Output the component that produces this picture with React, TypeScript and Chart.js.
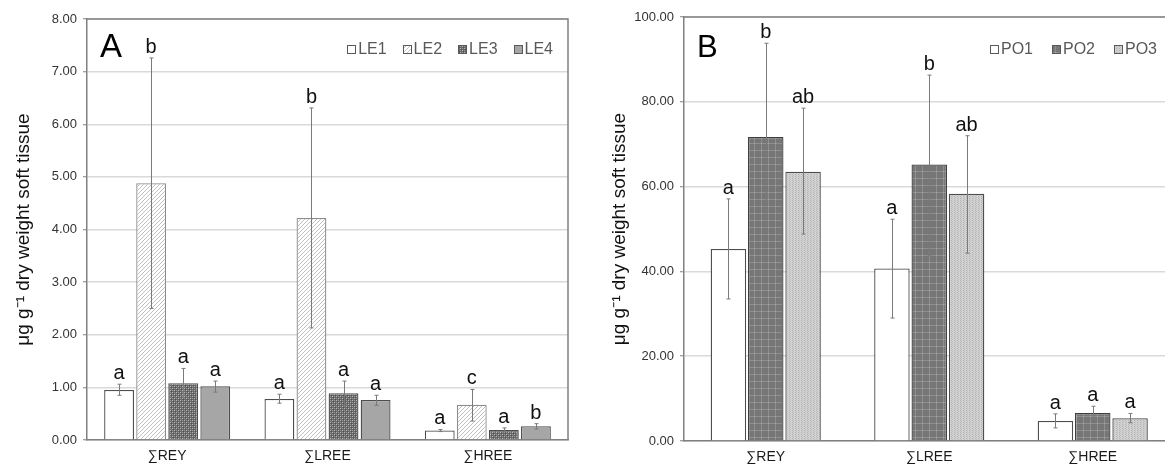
import React, { useEffect, useRef } from "react";
import { Chart, registerables } from "chart.js";

Chart.register(...registerables);

const FONT = '"Liberation Sans", Arial, Helvetica, sans-serif';

// ---------- data ----------
const categories = ["∑REY", "∑LREE", "∑HREE"];

const leLabels = ["LE1", "LE2", "LE3", "LE4"];
const le1 = [0.95, 0.78, 0.18];
const le2 = [4.88, 4.22, 0.67];
const le3 = [1.08, 0.89, 0.19];
const le4 = [1.02, 0.76, 0.26];
const le1Lo = [0.85, 0.7, 0.16];
const le1Hi = [1.06, 0.87, 0.2];
const le2Lo = [2.5, 2.13, 0.36];
const le2Hi = [7.26, 6.31, 0.96];
const le3Lo = [0.8, 0.65, 0.15];
const le3Hi = [1.36, 1.12, 0.23];
const le4Lo = [0.91, 0.66, 0.21];
const le4Hi = [1.12, 0.85, 0.31];
const le1Sig = ["a", "a", "a"];
const le2Sig = ["b", "b", "c"];
const le3Sig = ["a", "a", "a"];
const le4Sig = ["a", "a", "b"];

const poLabels = ["PO1", "PO2", "PO3"];
const po1 = [45.3, 40.7, 4.7];
const po2 = [71.7, 65.2, 6.6];
const po3 = [63.5, 58.3, 5.35];
const po1Lo = [33.5, 29.0, 3.1];
const po1Hi = [57.1, 52.3, 6.4];
const po2Lo = [49.5, 43.7, 5.0];
const po2Hi = [93.8, 86.3, 8.2];
const po3Lo = [48.8, 44.3, 4.3];
const po3Hi = [78.5, 72.0, 6.5];
const po1Sig = ["a", "a", "a"];
const po2Sig = ["b", "b", "a"];
const po3Sig = ["ab", "ab", "a"];

const yTitle = "μg g⁻¹ dry weight soft tissue";

// ---------- patterns ----------
function pattern(kind: string): CanvasPattern | string {
  const c = document.createElement("canvas");
  const ctx = c.getContext("2d")!;
  if (kind === "hatch") {
    c.width = 4;
    c.height = 4;
    ctx.fillStyle = "#ffffff";
    ctx.fillRect(0, 0, 4, 4);
    ctx.strokeStyle = "#c0c0c0";
    ctx.lineWidth = 1;
    ctx.beginPath();
    ctx.moveTo(0, 4);
    ctx.lineTo(4, 0);
    ctx.moveTo(-1, 1);
    ctx.lineTo(1, -1);
    ctx.moveTo(3, 5);
    ctx.lineTo(5, 3);
    ctx.stroke();
  } else if (kind === "check") {
    c.width = 4;
    c.height = 4;
    ctx.fillStyle = "#6a6a6a";
    ctx.fillRect(0, 0, 4, 4);
    ctx.fillStyle = "#b8b8b8";
    ctx.fillRect(0, 0, 1, 1);
    ctx.fillRect(2, 2, 1, 1);
    ctx.fillStyle = "#959595";
    ctx.fillRect(2, 0, 1, 1);
    ctx.fillRect(0, 2, 1, 1);
    ctx.fillStyle = "#4f4f4f";
    ctx.fillRect(1, 1, 1, 1);
    ctx.fillRect(3, 3, 1, 1);
  } else if (kind === "plaid") {
    c.width = 7;
    c.height = 7;
    ctx.fillStyle = "#767676";
    ctx.fillRect(0, 0, 7, 7);
    ctx.fillStyle = "#8f8f8f";
    ctx.fillRect(3, 0, 1, 7);
    ctx.fillRect(0, 3, 7, 1);
    ctx.fillStyle = "#a6a6a6";
    ctx.fillRect(3, 3, 1, 1);
  } else if (kind === "dots") {
    c.width = 3;
    c.height = 2;
    ctx.fillStyle = "#d2d2d2";
    ctx.fillRect(0, 0, 3, 2);
    ctx.fillStyle = "#b2b2b2";
    ctx.fillRect(1, 0, 1, 1);
    ctx.fillStyle = "#c0c0c0";
    ctx.fillRect(2, 1, 1, 1);
  }
  return ctx.createPattern(c, "repeat")!;
}

// ---------- plugins ----------
function errorPlugin(lo: number[][], hi: number[][], sig: string[][], sigFont: number) {
  return {
    id: "errbars",
    afterDatasetsDraw(chart: any) {
      const ctx = chart.ctx;
      const y = chart.scales.y;
      ctx.save();
      chart.data.datasets.forEach((_d: any, i: number) => {
        const meta = chart.getDatasetMeta(i);
        meta.data.forEach((bar: any, j: number) => {
          const x = Math.round(bar.x) + 0.5;
          const yl = y.getPixelForValue(lo[i][j]);
          const yh = y.getPixelForValue(hi[i][j]);
          ctx.strokeStyle = "#7a7a7a";
          ctx.lineWidth = 1;
          ctx.beginPath();
          ctx.moveTo(x, yl);
          ctx.lineTo(x, yh);
          ctx.moveTo(x - 2, yl);
          ctx.lineTo(x + 2, yl);
          ctx.moveTo(x - 2, yh);
          ctx.lineTo(x + 2, yh);
          ctx.stroke();
          ctx.fillStyle = "#111111";
          ctx.font = `${sigFont}px ${FONT}`;
          ctx.textAlign = "center";
          ctx.textBaseline = "alphabetic";
          ctx.fillText(sig[i][j], bar.x, yh - 5);
        });
      });
      ctx.restore();
    },
  };
}

function framePlugin(panel: string, panelFont: number, drawRight: boolean) {
  return {
    id: "frame",
    afterDraw(chart: any) {
      const { left, right, top } = chart.chartArea;
      const ctx = chart.ctx;
      ctx.save();
      ctx.strokeStyle = "#808080";
      ctx.lineWidth = 1.5;
      ctx.beginPath();
      ctx.moveTo(left, top);
      ctx.lineTo(right, top);
      if (drawRight) {
        ctx.lineTo(right, chart.chartArea.bottom);
      }
      ctx.stroke();
      ctx.fillStyle = "#000000";
      ctx.font = `${panelFont}px ${FONT}`;
      ctx.textAlign = "left";
      ctx.textBaseline = "alphabetic";
      ctx.fillText(panel, left + 13, 57);
      ctx.restore();
    },
  };
}

function legendPlugin(rightX: number, centerY: number, spacing: number) {
  return {
    id: "customLegend",
    afterDraw(chart: any) {
      const ctx = chart.ctx;
      ctx.save();
      ctx.font = `16px ${FONT}`;
      const box = 8;
      const gap = 3;
      const ds = chart.data.datasets;
      const widths = ds.map((d: any) => box + gap + ctx.measureText(d.label).width);
      const total = widths.reduce((a: number, b: number) => a + b, 0) + spacing * (ds.length - 1);
      let x = rightX - total;
      ds.forEach((d: any, i: number) => {
        const bx = Math.round(x) + 0.5;
        const by = Math.round(centerY - box / 2) + 0.5;
        ctx.fillStyle = d.backgroundColor;
        ctx.fillRect(bx, by, box, box);
        ctx.strokeStyle = "#595959";
        ctx.lineWidth = 1;
        ctx.strokeRect(bx, by, box, box);
        ctx.fillStyle = "#595959";
        ctx.textAlign = "left";
        ctx.textBaseline = "middle";
        ctx.fillText(d.label, x + box + gap, centerY + 1);
        x += widths[i] + spacing;
      });
      ctx.restore();
    },
  };
}

function makeOptions(
  max: number,
  step: number,
  yWidth: number,
  xHeight: number,
  padTop: number,
  padRight: number,
  titlePad: number
) {
  return {
    responsive: false,
    animation: false as const,
    devicePixelRatio: 1,
    layout: { padding: { left: 0, right: padRight, top: padTop, bottom: 0 } },
    plugins: { legend: { display: false }, tooltip: { enabled: false } },
    scales: {
      x: {
        type: "category" as const,
        grid: { display: false, drawTicks: false },
        border: { color: "#808080", width: 1.5 },
        ticks: { padding: 8, color: "#1a1a1a", font: { size: 14, family: FONT } },
        afterFit: (s: any) => {
          s.height = xHeight;
        },
      },
      y: {
        min: 0,
        max: max,
        ticks: {
          stepSize: step,
          padding: 6,
          color: "#333333",
          font: { size: 13, family: FONT },
          callback: (v: any) => Number(v).toFixed(2),
        },
        grid: { color: "#d9d9d9", lineWidth: 1.5, tickLength: 4, tickColor: "#808080", tickWidth: 1 },
        border: { color: "#808080", width: 1.5 },
        title: {
          display: true,
          text: yTitle,
          color: "#111111",
          font: { size: 19, family: FONT },
          padding: { top: titlePad, bottom: 0 },
        },
        afterFit: (s: any) => {
          s.width = yWidth;
        },
      },
    },
  };
}

export default function App() {
  const refA = useRef<HTMLCanvasElement | null>(null);
  const refB = useRef<HTMLCanvasElement | null>(null);

  useEffect(() => {
    const pWhite = "#ffffff";
    const pHatch = pattern("hatch");
    const pCheck = pattern("check");
    const pGray = "#a6a6a6";
    const pPlaid = pattern("plaid");
    const pDots = pattern("dots");

    const leVals = [le1, le2, le3, le4];
    const leFills = [pWhite, pHatch, pCheck, pGray];
    const leBorders = ["#4d4d4d", "#8c8c8c", "#4d4d4d", "#4d4d4d"];

    const chartA = new Chart(refA.current!, {
      type: "bar",
      data: {
        labels: categories,
        datasets: leVals.map((v, i) => ({
          label: leLabels[i],
          data: v,
          backgroundColor: leFills[i] as any,
          borderColor: leBorders[i],
          borderWidth: 1.3,
          categoryPercentage: 0.8,
          barPercentage: 0.93,
        })),
      },
      options: makeOptions(8, 1, 87, 24, 19, 12, 12.5) as any,
      plugins: [
        framePlugin("A", 33, true),
        errorPlugin(
          [le1Lo, le2Lo, le3Lo, le4Lo],
          [le1Hi, le2Hi, le3Hi, le4Hi],
          [le1Sig, le2Sig, le3Sig, le4Sig],
          20
        ),
        legendPlugin(553, 48.5, 16),
      ],
    });

    const poVals = [po1, po2, po3];
    const poFills = [pWhite, pPlaid, pDots];
    const poBorders = ["#4d4d4d", "#3d3d3d", "#4d4d4d"];

    const chartB = new Chart(refB.current!, {
      type: "bar",
      data: {
        labels: categories,
        datasets: poVals.map((v, i) => ({
          label: poLabels[i],
          data: v,
          backgroundColor: poFills[i] as any,
          borderColor: poBorders[i],
          borderWidth: 1.3,
          categoryPercentage: 0.685,
          barPercentage: 0.95,
        })),
      },
      options: makeOptions(100, 20, 94, 23, 17, 15.5, 18.5) as any,
      plugins: [
        framePlugin("B", 31, false),
        errorPlugin([po1Lo, po2Lo, po3Lo], [po1Hi, po2Hi, po3Hi], [po1Sig, po2Sig, po3Sig], 20),
        legendPlugin(567, 48.5, 19),
      ],
    });

    return () => {
      chartA.destroy();
      chartB.destroy();
    };
  }, []);

  return (
    <div
      style={{
        position: "fixed",
        left: 0,
        top: 0,
        width: 1165,
        height: 464,
        overflow: "hidden",
        background: "#ffffff",
      }}
    >
      <canvas
        ref={refA}
        width={580}
        height={464}
        style={{ position: "absolute", left: 0, top: 0, width: 580, height: 464 }}
      />
      <canvas
        ref={refB}
        width={600}
        height={464}
        style={{ position: "absolute", left: 590, top: 0, width: 600, height: 464 }}
      />
    </div>
  );
}
